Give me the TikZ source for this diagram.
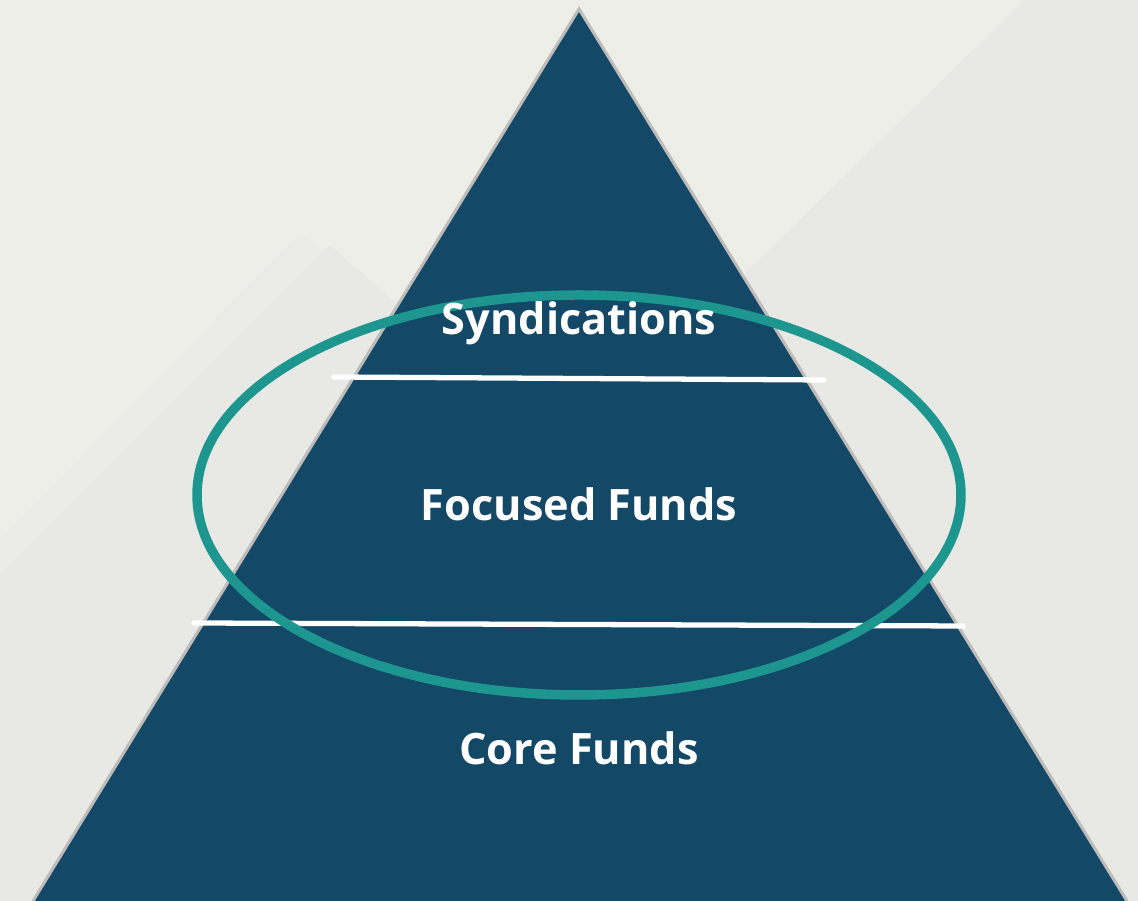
\documentclass[tikz,border=0pt]{standalone}
\usepackage{fontspec}
\setmainfont{Open Sans}
\usetikzlibrary{positioning}

\definecolor{bgcol}{HTML}{EEEEE9}
\definecolor{bgdark}{HTML}{E8E8E4}
\definecolor{navy}{HTML}{134866}
\definecolor{teal}{HTML}{1D9690}
\definecolor{rim}{HTML}{BDBCBA}

\begin{document}
\begin{tikzpicture}[x=0.01cm, y=-0.01cm,
  tier/.style={text=white, font=\bfseries\fontsize{12.3}{14}\selectfont, anchor=base},
  divider/.style={white, line width=1.5pt, line cap=round}]

%background and faint mountains
\useasboundingbox[fill=bgcol] (0,0) rectangle (1138,901);
\fill[bgdark] (1025,0) -- (1138,0) -- (1138,901) -- (560,901) -- (745,273) -- cycle;
\fill[bgdark!50!bgcol] (300,233) -- (0,540) -- (0,901) -- (560,901) -- (560,440) -- cycle;
\fill[bgdark] (330,245) -- (0,575) -- (0,901) -- (560,901) -- (560,450) -- cycle;

%the pyramid
\coordinate (apex) at (579,9);
\coordinate (bl) at (33,901);
\coordinate (br) at (1127,901);
\fill[navy] (apex) -- (br) -- (bl) -- cycle;
\draw[rim, line width=0.85pt] (bl) -- (apex) -- (br);

%tier dividers
\coordinate (d1l) at (334,377);
\coordinate (d1r) at (824,380);
\coordinate (d2l) at (194,623);
\coordinate (d2r) at (963,626);
\draw[divider] (d1l) -- (d1r);
\draw[divider] (d2l) -- (d2r);

%highlight ring
\draw[teal, line width=2.7pt] (579,495) ellipse [x radius=382, y radius=200];

%tier labels
\node[tier] (syn) at (579,335) {Syndications};
\node[tier] (foc) at (579,521) {Focused Funds};
\node[tier] (core) at (579,765) {Core Funds};

\end{tikzpicture}
\end{document}
